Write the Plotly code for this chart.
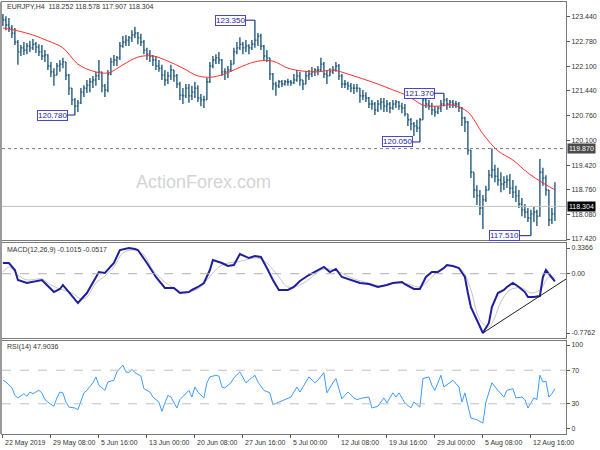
import plotly.graph_objects as go

# ---------------- data ----------------
highs = [123.52, 123.46, 123.41, 123.22, 123.14, 122.81, 122.68, 122.76, 122.73, 122.79,
         122.84, 122.76, 122.70, 122.68, 122.54, 122.43, 122.22, 122.05, 122.19, 122.27,
         122.33, 122.22, 121.89, 121.51, 121.24, 121.19, 121.51, 121.59, 121.73, 121.78,
         121.84, 121.95, 122.27, 121.95, 121.62, 122.00, 122.33, 122.41, 122.38, 122.76,
         122.92, 122.95, 122.92, 123.08, 123.17, 123.03, 122.98, 122.81, 122.60, 122.54,
         122.41, 122.38, 122.27, 122.14, 122.00, 121.95, 122.14, 122.00, 121.89, 121.68,
         121.51, 121.62, 121.62, 121.57, 121.68, 121.59, 121.35, 121.30, 121.78, 122.22,
         122.38, 122.43, 122.49, 122.30, 122.05, 122.11, 122.27, 122.60, 122.76, 122.89,
         122.76, 122.81, 122.70, 122.81, 123.35, 123.00, 122.98, 122.68, 122.54, 122.33,
         121.92, 121.68, 121.73, 121.73, 121.73, 121.76, 121.73, 121.89, 122.00, 121.95,
         121.73, 121.95, 122.00, 122.08, 122.05, 122.11, 122.33, 122.22, 122.00, 122.05,
         122.11, 122.22, 122.16, 121.89, 121.73, 121.68, 121.65, 121.62, 121.62, 121.51,
         121.46, 121.40, 121.27, 121.19, 121.13, 121.19, 121.24, 121.24, 121.19, 121.13,
         121.19, 121.19, 121.16, 121.11, 121.08, 120.81, 120.70, 120.59, 120.65, 120.70,
         121.27, 121.24, 121.19, 121.11, 121.02, 121.02, 121.19, 121.37, 121.24, 121.19,
         121.19, 121.16, 121.13, 121.00, 120.73, 120.62, 119.83, 119.23, 118.88, 118.75,
         118.61, 118.86, 119.29, 119.87, 119.43, 119.35, 119.23, 119.12, 119.15, 119.18,
         119.02, 118.86, 118.75, 118.53, 118.37, 118.26, 118.21, 118.29, 118.21, 119.59,
         119.35, 119.15, 118.75, 118.26, 118.96]

lows = [123.19, 123.08, 123.03, 122.87, 122.68, 122.14, 122.38, 122.41, 122.43, 122.49,
        122.54, 122.46, 122.38, 122.27, 122.22, 122.00, 121.81, 121.57, 121.86, 121.95,
        122.05, 121.73, 121.32, 121.05, 120.78, 120.86, 121.08, 121.27, 121.38, 121.40,
        121.51, 121.57, 121.73, 121.40, 121.27, 121.40, 121.86, 122.11, 122.11, 122.27,
        122.60, 122.65, 122.65, 122.76, 122.87, 122.70, 122.65, 122.43, 122.27, 122.22,
        122.11, 122.00, 121.95, 121.73, 121.57, 121.62, 121.73, 121.68, 121.51, 121.19,
        121.08, 121.24, 121.11, 121.19, 121.24, 121.13, 121.02, 120.97, 121.19, 121.65,
        122.05, 122.16, 122.16, 121.84, 121.73, 121.78, 121.95, 122.16, 122.43, 122.54,
        122.43, 122.49, 122.43, 122.54, 122.60, 122.65, 122.54, 122.27, 122.22, 121.73,
        121.46, 121.30, 121.51, 121.54, 121.57, 121.57, 121.57, 121.62, 121.68, 121.57,
        121.46, 121.62, 121.73, 121.81, 121.84, 121.86, 121.95, 121.78, 121.62, 121.84,
        121.89, 121.95, 121.73, 121.51, 121.51, 121.46, 121.40, 121.35, 121.40, 121.11,
        121.19, 121.13, 120.97, 120.92, 120.78, 120.86, 120.92, 120.86, 120.86, 120.83,
        120.92, 120.97, 120.92, 120.83, 120.75, 120.48, 120.37, 120.21, 120.32, 120.05,
        120.65, 120.97, 120.92, 120.78, 120.73, 120.81, 120.86, 121.02, 120.92, 120.97,
        120.97, 120.97, 120.86, 120.48, 120.32, 119.70, 119.07, 118.53, 118.34, 118.07,
        117.69, 118.42, 118.75, 119.07, 118.96, 118.86, 118.69, 118.75, 118.80, 118.64,
        118.53, 118.42, 118.26, 118.04, 117.99, 117.88, 117.51, 117.88, 117.77, 118.02,
        118.86, 118.59, 117.77, 117.83, 117.91]

closes = [123.36, 123.22, 123.14, 123.00, 122.76, 122.49, 122.60, 122.54, 122.65, 122.60,
          122.70, 122.62, 122.49, 122.38, 122.41, 122.11, 121.95, 121.86, 122.11, 122.16,
          122.22, 121.86, 121.51, 121.19, 121.02, 121.11, 121.40, 121.51, 121.59, 121.68,
          121.73, 121.84, 121.95, 121.57, 121.46, 121.89, 122.22, 122.27, 122.33, 122.65,
          122.76, 122.81, 122.87, 122.95, 123.00, 122.87, 122.76, 122.54, 122.43, 122.38,
          122.27, 122.11, 122.05, 121.86, 121.73, 121.84, 122.00, 121.84, 121.62, 121.32,
          121.30, 121.51, 121.30, 121.40, 121.51, 121.24, 121.19, 121.19, 121.68, 122.11,
          122.27, 122.33, 122.27, 121.95, 121.95, 122.00, 122.16, 122.49, 122.60, 122.70,
          122.60, 122.65, 122.60, 122.70, 122.81, 122.92, 122.65, 122.38, 122.33, 121.89,
          121.62, 121.57, 121.68, 121.62, 121.68, 121.68, 121.65, 121.73, 121.84, 121.73,
          121.62, 121.84, 121.89, 121.95, 122.00, 122.00, 122.16, 121.89, 121.84, 121.95,
          122.00, 122.11, 121.84, 121.62, 121.62, 121.57, 121.51, 121.51, 121.51, 121.30,
          121.30, 121.24, 121.08, 121.08, 120.92, 121.08, 121.13, 121.02, 121.08, 120.97,
          121.08, 121.13, 121.02, 120.97, 120.81, 120.65, 120.54, 120.48, 120.43, 120.65,
          121.19, 121.08, 121.02, 120.92, 120.86, 120.97, 121.08, 121.19, 121.08, 121.13,
          121.08, 121.08, 120.97, 120.70, 120.59, 119.83, 119.23, 118.75, 118.59, 118.26,
          118.48, 118.75, 119.15, 119.29, 119.12, 119.02, 118.91, 118.96, 119.02, 118.80,
          118.69, 118.59, 118.37, 118.21, 118.15, 117.99, 118.10, 118.15, 118.04, 119.23,
          119.07, 118.75, 117.94, 118.10, 118.30]

opens = [123.41, 123.36, 123.22, 123.14, 123.00, 122.76, 122.49, 122.60, 122.54, 122.65,
         122.60, 122.70, 122.62, 122.49, 122.38, 122.41, 122.11, 121.95, 121.86, 122.11,
         122.16, 122.22, 121.86, 121.51, 121.19, 121.02, 121.11, 121.40, 121.51, 121.59,
         121.68, 121.73, 121.84, 121.95, 121.57, 121.46, 121.89, 122.22, 122.27, 122.33,
         122.65, 122.76, 122.81, 122.87, 122.95, 123.00, 122.87, 122.76, 122.54, 122.43,
         122.38, 122.27, 122.11, 122.05, 121.86, 121.73, 121.84, 122.00, 121.84, 121.62,
         121.32, 121.30, 121.51, 121.30, 121.40, 121.51, 121.24, 121.19, 121.19, 121.68,
         122.11, 122.27, 122.33, 122.27, 121.95, 121.95, 122.00, 122.16, 122.49, 122.60,
         122.70, 122.60, 122.65, 122.60, 122.70, 122.81, 122.92, 122.65, 122.38, 122.33,
         121.89, 121.62, 121.57, 121.68, 121.62, 121.68, 121.68, 121.65, 121.73, 121.84,
         121.73, 121.62, 121.84, 121.89, 121.95, 122.00, 122.00, 122.16, 121.89, 121.84,
         121.95, 122.00, 122.11, 121.84, 121.62, 121.62, 121.57, 121.51, 121.51, 121.51,
         121.30, 121.30, 121.24, 121.08, 121.08, 120.92, 121.08, 121.13, 121.02, 121.08,
         120.97, 121.08, 121.13, 121.02, 120.97, 120.81, 120.65, 120.54, 120.48, 120.43,
         120.65, 121.19, 121.08, 121.02, 120.92, 120.86, 120.97, 121.08, 121.19, 121.08,
         121.13, 121.08, 121.08, 120.97, 120.70, 120.59, 119.83, 119.23, 118.75, 118.59,
         118.26, 118.48, 118.75, 119.15, 119.29, 119.12, 119.02, 118.91, 118.96, 119.02,
         118.80, 118.69, 118.59, 118.37, 118.21, 118.15, 117.99, 118.10, 118.15, 118.04,
         119.23, 119.07, 118.75, 117.94, 118.10]

ma_idx = [0, 5, 10, 15, 20, 25, 30, 35, 40, 45, 50, 55, 60, 65, 70, 75, 80, 85, 90,
          95, 100, 105, 110, 115, 120, 125, 130, 135, 140, 145, 150, 155, 160, 165, 170,
          175, 180, 184]
ma_vals = [123.14, 123.06, 122.95, 122.79, 122.60, 122.16, 121.97, 121.92, 122.14, 122.35,
           122.38, 122.24, 122.05, 121.84, 121.81, 121.93, 122.11, 122.24, 122.24,
           122.05, 121.97, 121.95, 122.00, 121.89, 121.76, 121.62, 121.46, 121.30, 121.05,
           121.02, 121.05, 120.86, 120.27, 119.81, 119.56, 119.21, 118.94, 118.75]

macd_idx = [0, 2, 4, 5, 8, 10, 13, 14, 17, 19, 20, 22, 25, 28, 30, 32, 34, 37, 39, 42,
            44, 45, 48, 51, 54, 57, 59, 62, 63, 65, 67, 69, 70, 73, 75, 77, 79, 82, 84,
            86, 88, 90, 92, 95, 97, 99, 102, 104, 107, 109, 111, 113, 116, 119, 122, 125,
            128, 130, 133, 134, 137, 139, 141, 143, 145, 147, 148, 150, 152, 154, 155,
            156, 158, 160, 162, 163, 165, 167, 168, 170, 172, 174, 175, 177, 179, 180,
            181, 183, 184]
macd_vals = [0.140, 0.140, 0.048, -0.082, -0.122, -0.109, -0.082, -0.122, -0.240, -0.200,
             -0.148, -0.240, -0.384, -0.253, -0.109, 0.022, 0.009, 0.140, 0.310, 0.3366,
             0.323, 0.310, 0.140, -0.043, -0.187, -0.187, -0.253, -0.240, -0.213, -0.174,
             -0.122, 0.048, 0.179, 0.140, 0.101, 0.114, 0.258, 0.205, 0.232, 0.219, 0.075,
             -0.082, -0.213, -0.213, -0.174, -0.096, -0.017, 0.022, 0.088, 0.022, 0.062,
             -0.043, -0.082, -0.122, -0.135, -0.174, -0.148, -0.122, -0.109, -0.135,
             -0.200, -0.200, -0.043, 0.022, 0.022, 0.075, 0.114, 0.101, 0.075, -0.043,
             -0.253, -0.437, -0.606, -0.7762, -0.645, -0.437, -0.253, -0.213, -0.174,
             -0.122, -0.174, -0.240, -0.305, -0.305, -0.292, -0.043, 0.048, -0.056, -0.1015]

signal_idx = [0, 2, 5, 8, 13, 16, 19, 23, 26, 28, 31, 34, 37, 40, 44, 47, 50, 54, 57, 60,
              65, 68, 72, 75, 78, 82, 85, 88, 92, 95, 99, 103, 106, 109, 113, 117, 122,
              126, 130, 135, 139, 143, 146, 149, 153, 156, 159, 162, 164, 166, 169, 173,
              176, 179, 182, 184]
signal_vals = [0.022, 0.088, -0.017, -0.082, -0.069, -0.148, -0.200, -0.253, -0.331, -0.305,
               -0.122, -0.030, 0.088, 0.271, 0.310, 0.245, 0.048, -0.109, -0.187, -0.240,
               -0.200, -0.082, 0.088, 0.140, 0.153, 0.192, 0.205, 0.140, -0.043, -0.174,
               -0.148, -0.043, 0.048, 0.062, 0.009, -0.069, -0.122, -0.161, -0.122, -0.135,
               -0.174, -0.043, 0.062, 0.101, 0.048, -0.213, -0.606, -0.698, -0.567, -0.370,
               -0.213, -0.187, -0.253, -0.213, -0.043, -0.0517]

trend_idx = [160, 187.7]
trend_vals = [-0.7762, -0.07]

rsi_idx = [0, 1, 3, 4, 5, 7, 8, 9, 10, 12, 13, 14, 15, 16, 17, 18, 19, 20, 21, 22, 24,
           25, 26, 27, 28, 29, 30, 31, 32, 33, 34, 35, 37, 38, 40, 41, 42, 43, 44, 46,
           47, 49, 50, 52, 53, 54, 55, 56, 57, 58, 59, 60, 62, 63, 64, 65, 66, 67, 68,
           69, 71, 72, 73, 74, 76, 77, 79, 80, 81, 83, 84, 85, 87, 89, 90, 92, 94, 96,
           98, 99, 100, 102, 104, 105, 107, 108, 110, 111, 113, 115, 117, 118, 120, 122,
           123, 125, 127, 128, 130, 131, 132, 134, 136, 137, 139, 140, 142, 143, 144,
           146, 147, 149, 150, 152, 153, 154, 155, 156, 158, 160, 161, 162, 163, 165,
           167, 168, 170, 171, 173, 174, 175, 177, 178, 179, 180, 181, 182, 183, 184]
rsi_vals = [58, 56, 49, 40, 37, 42, 39, 44, 42, 46, 43, 35, 32, 29, 27, 37, 44, 43, 32, 26,
            25, 23, 32, 43, 46, 51, 55, 62, 52, 49, 46, 56, 58, 68, 76, 68, 67, 71, 67, 63,
            48, 44, 38, 32, 21, 31, 40, 38, 32, 25, 35, 39, 46, 38, 50, 44, 40, 37, 55,
            62, 64, 63, 50, 49, 55, 61, 68, 62, 55, 61, 64, 56, 46, 43, 29, 32, 35, 38,
            50, 44, 50, 62, 55, 58, 67, 43, 55, 60, 36, 44, 37, 35, 37, 38,
            25, 27, 37, 31, 43, 38, 43, 31, 25, 32, 26, 60, 62, 52, 46,
            64, 50, 56, 58, 50, 32, 43, 26, 13, 11, 7, 32, 43, 55, 46,
            38, 46, 48, 37, 38, 35, 25, 37, 35, 64, 56, 57, 38, 42, 47.9036]

label_idx = [24, 84, 147, 139, 176]
label_vals = [120.78, 123.35, 121.37, 120.05, 117.51]
label_text = ["120.780", "123.350", "121.370", "120.050", "117.510"]
label_shift = [-22, -24, -24, -22, -26]

price_ticks = [123.44, 122.78, 122.10, 121.44, 120.76, 120.10, 119.42, 118.76, 118.08, 117.42]
price_tick_text = ["123.440", "122.780", "122.100", "121.440", "120.760", "120.100",
                   "119.420", "118.760", "118.080", "117.420"]
macd_ticks = [0.3366, 0.0, -0.7762]
macd_tick_text = ["0.3366", "0.00", "-0.7762"]
rsi_ticks = [100, 70, 30, 0]
rsi_tick_text = ["100", "70", "30", "0"]

time_idx = [0, 16, 32, 48, 64, 80, 96, 112, 128, 144, 160, 176]
time_labels = ["22 May 2019", "29 May 08:00", "5 Jun 16:00", "13 Jun 00:00", "20 Jun 08:00",
               "27 Jun 16:00", "5 Jul 00:00", "12 Jul 08:00", "19 Jul 16:00", "29 Jul 00:00",
               "5 Aug 08:00", "12 Aug 16:00"]

level_line = 119.87
last_price = 118.304
header_main = "EURJPY,H4  118.252 118.578 117.907 118.304"
header_macd = "MACD(12,26,9) -0.1015 -0.0517"
header_rsi = "RSI(14) 47.9036"

# ---------------- figure ----------------
FONT = "Liberation Sans, Arial, sans-serif"
W, H = 600, 450
ML, MR, MT, MB = 2, 34, 2, 16
PH = H - MT - MB


def py(ypx):
    return (H - MB - ypx) / PH


def pxx(xpx):
    return (xpx - ML) / (W - ML - MR)


bar_idx = list(range(len(closes)))
xr = [-0.3, 187.7]
BAR = "#245b7d"

fig = go.Figure()
fig.add_trace(go.Ohlc(x=bar_idx, open=opens, high=highs, low=lows, close=closes,
                      xaxis="x", yaxis="y", tickwidth=0.4,
                      increasing=dict(line=dict(color=BAR, width=1.4)),
                      decreasing=dict(line=dict(color=BAR, width=1.4)),
                      hoverinfo="skip", showlegend=False))
fig.add_trace(go.Scatter(x=ma_idx, y=ma_vals, mode="lines", xaxis="x", yaxis="y",
                         line=dict(color="#ff3030", width=1, shape="spline"),
                         showlegend=False, hoverinfo="skip"))
fig.add_trace(go.Scatter(x=signal_idx, y=signal_vals, mode="lines", xaxis="x2", yaxis="y2",
                         line=dict(color="#c4c4c4", width=1, shape="spline"),
                         showlegend=False, hoverinfo="skip"))
fig.add_trace(go.Scatter(x=macd_idx, y=macd_vals, mode="lines", xaxis="x2", yaxis="y2",
                         line=dict(color="#1f1f9c", width=2),
                         showlegend=False, hoverinfo="skip"))
fig.add_trace(go.Scatter(x=trend_idx, y=trend_vals, mode="lines", xaxis="x2", yaxis="y2",
                         line=dict(color="#202020", width=1),
                         showlegend=False, hoverinfo="skip"))
fig.add_trace(go.Scatter(x=rsi_idx, y=rsi_vals, mode="lines", xaxis="x3", yaxis="y3",
                         line=dict(color="#3d9bff", width=1),
                         showlegend=False, hoverinfo="skip"))

frame = dict(showline=True, mirror=True, linecolor="#7a7a7a", linewidth=1,
             showgrid=False, zeroline=False, fixedrange=True)
tickfont = dict(family=FONT, size=7, color="#333333")

fig.update_layout(
    width=W, height=H, margin=dict(l=ML, r=MR, t=MT, b=MB),
    paper_bgcolor="white", plot_bgcolor="white",
    font=dict(family=FONT, size=7, color="#333333"),
    xaxis=dict(domain=[0, 1], range=xr, anchor="y", showticklabels=False,
               rangeslider=dict(visible=False), **frame),
    xaxis2=dict(domain=[0, 1], range=xr, anchor="y2", showticklabels=False, **frame),
    xaxis3=dict(domain=[0, 1], range=xr, anchor="y3", showticklabels=False,
                tickvals=time_idx, ticks="outside", ticklen=3, tickcolor="#555555", **frame),
    yaxis=dict(domain=[py(240), py(2)], range=[117.393, 123.843], side="right", anchor="x",
               tickvals=price_ticks, ticktext=price_tick_text, ticks="outside", ticklen=3,
               tickcolor="#555555", tickfont=tickfont, **frame),
    yaxis2=dict(domain=[py(338), py(243)], range=[-0.8416, 0.4020], side="right", anchor="x2",
                tickvals=macd_ticks, ticktext=macd_tick_text, ticks="outside", ticklen=3,
                tickcolor="#555555", tickfont=tickfont, **frame),
    yaxis3=dict(domain=[py(434), py(341)], range=[-6.0, 104.8], side="right", anchor="x3",
                tickvals=rsi_ticks, ticktext=rsi_tick_text, ticks="outside", ticklen=3,
                tickcolor="#555555", tickfont=tickfont, **frame),
)

# reference lines
fig.add_shape(type="line", xref="x domain", yref="y", x0=0, x1=1, y0=level_line, y1=level_line,
              line=dict(color="#7a7a7a", width=1, dash="dot"))
fig.add_shape(type="line", xref="x domain", yref="y", x0=0, x1=1, y0=last_price, y1=last_price,
              line=dict(color="#c0c0c0", width=1))
fig.add_shape(type="line", xref="x2 domain", yref="y2", x0=0, x1=1, y0=0, y1=0,
              line=dict(color="#b0b0b0", width=1, dash="dash"))
for lv in (70, 30):
    fig.add_shape(type="line", xref="x3 domain", yref="y3", x0=0, x1=1, y0=lv, y1=lv,
                  line=dict(color="#c0c0c0", width=1, dash="dash"))
# thicker left window edge
fig.add_shape(type="line", xref="paper", yref="paper", x0=pxx(1), x1=pxx(1), y0=0, y1=1,
              line=dict(color="#9a9a9a", width=2))

# swing labels
for xi, yv, txt, sh in zip(label_idx, label_vals, label_text, label_shift):
    fig.add_annotation(x=xi, y=yv, xref="x", yref="y", text=txt, showarrow=True,
                       arrowhead=0, arrowwidth=1, arrowcolor="#1c1c8c", ax=sh, ay=0,
                       axref="pixel", ayref="pixel", standoff=0, startstandoff=0,
                       bgcolor="white", bordercolor="#4848c8", borderwidth=1, borderpad=0,
                       font=dict(family=FONT, size=8, color="#1c1c9c"))

# right side price tags
fig.add_annotation(x=1, xref="paper", y=level_line, yref="y", text="119.870", showarrow=False,
                   xanchor="left", xshift=1, bgcolor="#4a4a4a", borderpad=1,
                   font=dict(family=FONT, size=7, color="white"))
fig.add_annotation(x=1, xref="paper", y=last_price, yref="y", text="118.304", showarrow=False,
                   xanchor="left", xshift=1, bgcolor="#000000", borderpad=1,
                   font=dict(family=FONT, size=7, color="white"))

# headers
for txt, ypx in ((header_main, 7), (header_macd, 250), (header_rsi, 347)):
    fig.add_annotation(x=pxx(5), y=py(ypx), xref="paper", yref="paper", text=txt,
                       showarrow=False, xanchor="left", yanchor="middle",
                       font=dict(family=FONT, size=7, color="#333333"))

# time axis labels
for xi, txt in zip(time_idx, time_labels):
    fig.add_annotation(x=xi, xref="x3", y=py(443), yref="paper", text=txt, showarrow=False,
                       xanchor="left", yanchor="middle",
                       font=dict(family=FONT, size=7, color="#333333"))

# watermark
fig.add_annotation(x=pxx(203), y=py(182), xref="paper", yref="paper", text="ActionForex.com",
                   showarrow=False, font=dict(family=FONT, size=18, color="#d4d4d4"))

fig.write_html("out.html", config={"displayModeBar": False},
               post_script="document.body.style.margin='0';document.body.style.padding='0';")
